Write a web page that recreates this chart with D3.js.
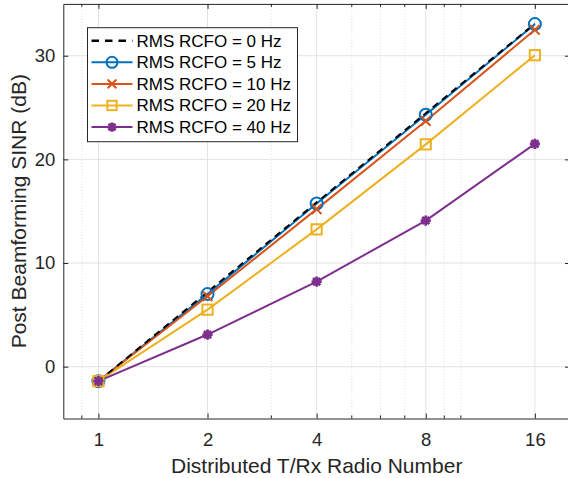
<!DOCTYPE html>
<html>
<head>
<meta charset="utf-8">
<script src="https://cdn.jsdelivr.net/npm/d3@7"></script>
<style>
  body { margin: 0; background: #fff; }
  svg { display: block; font-family: "Liberation Sans", Arial, sans-serif; }
</style>
</head>
<body>
<div id="chart"></div>
<script>
const width = 568;
const height = 478;

// radio counts along the x axis
const radios = [1, 2, 4, 8, 16];
const xTickLabels = ["1", "2", "4", "8", "16"];
const xMinorTicks = [0.9, 3, 5, 6, 7, 9, 10];
const yTicks = [0, 10, 20, 30];

// SINR (dB) per RMS RCFO
const rcfo0 = [-1.4, 7.2, 15.85, 24.45, 33.1];
const rcfo5 = [-1.4, 7.0, 15.75, 24.3, 33.05];
const rcfo10 = [-1.4, 6.8, 15.2, 23.7, 32.5];
const rcfo20 = [-1.4, 5.5, 13.25, 21.45, 30.05];
const rcfo40 = [-1.4, 3.1, 8.2, 14.1, 21.5];

const seriesNames = ["RMS RCFO = 0 Hz", "RMS RCFO = 5 Hz", "RMS RCFO = 10 Hz", "RMS RCFO = 20 Hz", "RMS RCFO = 40 Hz"];

const series = [
  { name: seriesNames[0], values: rcfo0, color: "#000000", dash: "7,5", marker: "none" },
  { name: seriesNames[1], values: rcfo5, color: "#0072BD", dash: null, marker: "circle" },
  { name: seriesNames[2], values: rcfo10, color: "#D95319", dash: null, marker: "cross" },
  { name: seriesNames[3], values: rcfo20, color: "#EDB120", dash: null, marker: "square" },
  { name: seriesNames[4], values: rcfo40, color: "#7E2F8E", dash: null, marker: "star" }
];

const plotLeft = 63.3, plotRight = 570, plotTop = 3.9, plotBottom = 418.5;
const axisColor = "#262626";
const gridColor = "#e3e3e3";

const x = d3.scaleLog().domain([0.8, 20]).range([plotLeft, plotRight]);
const y = d3.scaleLinear().domain([-5, 35]).range([plotBottom, plotTop]);

const svg = d3.select("#chart")
  .append("svg")
  .attr("width", width)
  .attr("height", height);

// grid
const grid = svg.append("g");
grid.selectAll(".minor")
  .data(xMinorTicks)
  .enter()
  .append("line")
  .attr("x1", d => x(d)).attr("x2", d => x(d))
  .attr("y1", plotTop).attr("y2", plotBottom)
  .attr("stroke", "#d6d6d6")
  .attr("stroke-width", 0.8)
  .attr("stroke-dasharray", "1,2");
grid.selectAll(".vmajor")
  .data(radios)
  .enter()
  .append("line")
  .attr("x1", d => x(d)).attr("x2", d => x(d))
  .attr("y1", plotTop).attr("y2", plotBottom)
  .attr("stroke", gridColor)
  .attr("stroke-width", 1);
grid.selectAll(".hmajor")
  .data(yTicks)
  .enter()
  .append("line")
  .attr("x1", plotLeft).attr("x2", plotRight)
  .attr("y1", d => y(d)).attr("y2", d => y(d))
  .attr("stroke", gridColor)
  .attr("stroke-width", 1);

// axes: MATLAB style, ticks pointing inward, on all four sides
const xBottom = d3.axisBottom(x).tickValues(radios).tickFormat((d, i) => xTickLabels[i]).tickSizeInner(-5).tickSizeOuter(0).tickPadding(14);
const xTop = d3.axisTop(x).tickValues(radios).tickFormat("").tickSizeInner(-5).tickSizeOuter(0);
const yLeft = d3.axisLeft(y).tickValues(yTicks).tickSizeInner(-5).tickSizeOuter(0).tickPadding(8);
const yRight = d3.axisRight(y).tickValues(yTicks).tickFormat("").tickSizeInner(-5).tickSizeOuter(0);

function styleAxis(g) {
  g.select(".domain").attr("stroke", axisColor).attr("stroke-width", 1);
  g.selectAll(".tick line").attr("stroke", axisColor);
  g.selectAll(".tick text").attr("fill", axisColor).style("font-size", "18.5px").style("font-family", "Liberation Sans, Arial, sans-serif");
}

svg.append("g").attr("transform", `translate(0,${plotBottom})`).call(xBottom).call(styleAxis);
svg.append("g").attr("transform", `translate(0,${plotTop})`).call(xTop).call(styleAxis);
svg.append("g").attr("transform", `translate(${plotLeft},0)`).call(yLeft).call(styleAxis);
svg.append("g").attr("transform", `translate(${plotRight},0)`).call(yRight).call(styleAxis);

// minor ticks on top and bottom
[plotTop, plotBottom].forEach((yy, k) => {
  svg.append("g").selectAll("line")
    .data(xMinorTicks)
    .enter()
    .append("line")
    .attr("x1", d => x(d)).attr("x2", d => x(d))
    .attr("y1", yy).attr("y2", k === 0 ? yy + 3 : yy - 3)
    .attr("stroke", axisColor);
});

// lines
const line = d3.line()
  .x((d, i) => x(radios[i]))
  .y(d => y(d));

const drawOrder = [1, 2, 3, 4, 0];

drawOrder.forEach(si => {
  const s = series[si];
  svg.append("path")
    .datum(s.values)
    .attr("fill", "none")
    .attr("stroke", s.color)
    .attr("stroke-width", 2)
    .attr("stroke-dasharray", s.dash)
    .attr("d", line);
});

function drawMarker(g, type, color, cx, cy, size) {
  const r = size / 2;
  if (type === "circle") {
    g.append("circle").attr("cx", cx).attr("cy", cy).attr("r", r)
      .attr("fill", "none").attr("stroke", color).attr("stroke-width", 2);
  } else if (type === "square") {
    g.append("rect").attr("x", cx - r * 0.85).attr("y", cy - r * 0.85)
      .attr("width", r * 1.7).attr("height", r * 1.7)
      .attr("fill", "none").attr("stroke", color).attr("stroke-width", 2);
  } else if (type === "cross") {
    const a = r * 0.8;
    g.append("path")
      .attr("d", `M${cx - a},${cy - a}L${cx + a},${cy + a}M${cx - a},${cy + a}L${cx + a},${cy - a}`)
      .attr("stroke", color).attr("stroke-width", 2);
  } else if (type === "star") {
    const a = r * 0.85;
    const b = a * 0.7071;
    g.append("path")
      .attr("d", `M${cx - a},${cy}L${cx + a},${cy}M${cx},${cy - a}L${cx},${cy + a}` +
        `M${cx - b},${cy - b}L${cx + b},${cy + b}M${cx - b},${cy + b}L${cx + b},${cy - b}`)
      .attr("stroke", color).attr("stroke-width", 2.8);
  }
}

const markers = svg.append("g");
[1, 2, 3, 4].forEach(si => {
  const s = series[si];
  s.values.forEach((v, i) => {
    drawMarker(markers, s.marker, s.color, x(radios[i]), y(v), 12);
  });
});

// legend
const lg = svg.append("g");
const lx = 87.5, ly = 27.7, lw = 210, lh = 114;
lg.append("rect")
  .attr("x", lx).attr("y", ly).attr("width", lw).attr("height", lh)
  .attr("fill", "#fff").attr("stroke", axisColor).attr("stroke-width", 1);

series.forEach((s, i) => {
  const ry = ly + 13 + i * 21.6;
  lg.append("line")
    .attr("x1", lx + 4).attr("x2", lx + 45)
    .attr("y1", ry).attr("y2", ry)
    .attr("stroke", s.color)
    .attr("stroke-width", s.dash ? 2.6 : 2)
    .attr("stroke-dasharray", s.dash ? "7.5,6" : null);
  drawMarker(lg, s.marker, s.color, lx + 24.5, ry, 11);
  lg.append("text")
    .attr("x", lx + 49).attr("y", ry)
    .attr("dy", "0.35em")
    .attr("fill", "#000")
    .style("font-size", "17px")
    .text(s.name);
});

// axis labels
svg.append("text")
  .attr("x", 316.7)
  .attr("y", 473)
  .attr("text-anchor", "middle")
  .attr("fill", axisColor)
  .style("font-size", "21px")
  .text("Distributed T/Rx Radio Number");

svg.append("text")
  .attr("transform", `translate(26,${(plotTop + plotBottom) / 2}) rotate(-90)`)
  .attr("text-anchor", "middle")
  .attr("fill", axisColor)
  .style("font-size", "21px")
  .text("Post Beamforming SINR (dB)");
</script>
</body>
</html>
